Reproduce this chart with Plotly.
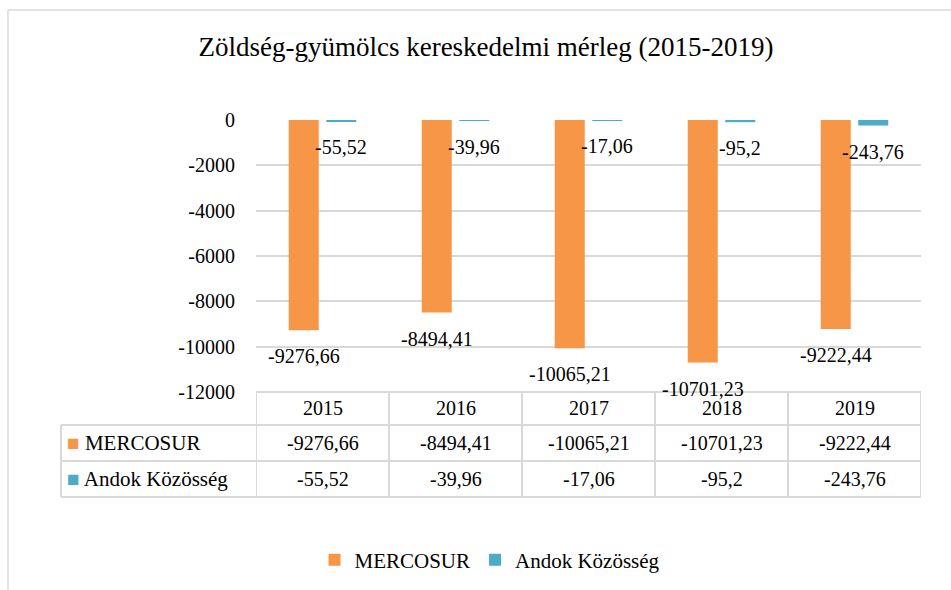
import plotly.graph_objects as go

years = ["2015", "2016", "2017", "2018", "2019"]
mercosur = [-9276.66, -8494.41, -10065.21, -10701.23, -9222.44]
andok = [-55.52, -39.96, -17.06, -95.2, -243.76]
series_names = ["MERCOSUR", "Andok Közösség"]
tick_vals = [0, -2000, -4000, -6000, -8000, -10000, -12000]
tick_text = ["0", "-2000", "-4000", "-6000", "-8000", "-10000", "-12000"]

ORANGE = "#F79646"
TEAL = "#4BACC6"
GRID = "#D9D9D9"
FONT = "Liberation Serif, DejaVu Serif, serif"

W, H = 951, 590
L, R, T, B = 256, 30, 120, 198
PW, PH = W - L - R, H - T - B
BARGAP = 0.436
BARGROUPGAP = 0.2


def fmt(v):
    return str(v).replace(".", ",")


def px_x(px):
    return (px - L) / PW


def px_y(py):
    return (H - B - py) / PH


fig = go.Figure()
fig.add_trace(go.Bar(x=years, y=mercosur, name=series_names[0], marker_color=ORANGE,
                     marker_line_width=0))
fig.add_trace(go.Bar(x=years, y=andok, name=series_names[1], marker_color=TEAL,
                     marker_line_width=0))

annotations = []
# data labels below bar ends (category axis: position = category index)
slot_px = PW / len(years) * (1 - BARGAP) / 2
for vals, shift in ((mercosur, -slot_px / 2), (andok, slot_px / 2)):
    for i, v in enumerate(vals):
        annotations.append(dict(x=i, y=v, xref="x", yref="y", text=fmt(v), showarrow=False,
                                xshift=shift, yshift=-26, yanchor="middle",
                                font=dict(family=FONT, size=20, color="#000000")))

# data table
row_y = [px_y(408), px_y(443), px_y(479)]
for i, yr in enumerate(years):
    annotations.append(dict(x=i, y=row_y[0], xref="x", yref="paper", text=yr, showarrow=False,
                            yanchor="middle", font=dict(family=FONT, size=20, color="#000000")))
for vals, ry in ((mercosur, row_y[1]), (andok, row_y[2])):
    for i, v in enumerate(vals):
        annotations.append(dict(x=i, y=ry, xref="x", yref="paper", text=fmt(v), showarrow=False,
                                yanchor="middle", font=dict(family=FONT, size=20, color="#000000")))
for name, col, ry in ((series_names[0], ORANGE, row_y[1]), (series_names[1], TEAL, row_y[2])):
    annotations.append(dict(x=px_x(65), y=ry, xref="paper", yref="paper",
                            text=f'<span style="color:{col}">■</span> {name}', showarrow=False,
                            xanchor="left", yanchor="middle",
                            font=dict(family=FONT, size=21, color="#000000")))

shapes = []
line = dict(color=GRID, width=2)
xl = px_x(61)
y_rows = [px_y(392), px_y(425), px_y(461), px_y(497)]
shapes.append(dict(type="line", xref="paper", yref="paper", x0=0, x1=1, y0=y_rows[0], y1=y_rows[0], line=line))
for yy in y_rows[1:]:
    shapes.append(dict(type="line", xref="paper", yref="paper", x0=xl, x1=1, y0=yy, y1=yy, line=line))
for i in range(len(years) + 1):
    shapes.append(dict(type="line", xref="x", yref="paper", x0=i - 0.5, x1=i - 0.5,
                       y0=y_rows[0], y1=y_rows[3], line=line))
shapes.append(dict(type="line", xref="paper", yref="paper", x0=xl, x1=xl,
                   y0=y_rows[1], y1=y_rows[3], line=line))
# chart frame
shapes.append(dict(type="line", xref="paper", yref="paper", x0=px_x(8), x1=px_x(8),
                   y0=px_y(10), y1=px_y(H), line=dict(color=GRID, width=1.5)))
shapes.append(dict(type="line", xref="paper", yref="paper", x0=px_x(8), x1=px_x(W),
                   y0=px_y(10), y1=px_y(10), line=dict(color=GRID, width=1.5)))

fig.update_layout(
    width=W, height=H,
    margin=dict(l=L, r=R, t=T, b=B),
    paper_bgcolor="white", plot_bgcolor="white",
    font=dict(family=FONT, size=20, color="#000000"),
    title=dict(text="Zöldség-gyümölcs kereskedelmi mérleg (2015-2019)",
               x=486 / W, xanchor="center", y=1 - 47 / H, yanchor="middle",
               font=dict(family=FONT, size=27, color="#000000")),
    barmode="group", bargap=BARGAP, bargroupgap=BARGROUPGAP,
    xaxis=dict(type="category", showticklabels=False, showgrid=False, zeroline=False,
               showline=False, range=[-0.5, len(years) - 0.5]),
    yaxis=dict(range=[-12000, 0], tickvals=tick_vals, ticktext=tick_text, showgrid=True,
               gridcolor=GRID, gridwidth=1.5, zeroline=False, showline=False,
               ticklabelstandoff=20, tickfont=dict(family=FONT, size=20, color="#000000")),
    legend=dict(orientation="h", xref="container", yref="container", x=490 / W, y=1 - 560 / H,
                xanchor="center", yanchor="middle", font=dict(family=FONT, size=21),
                traceorder="normal", itemclick=False, itemwidth=30),
    annotations=annotations,
    shapes=shapes,
    showlegend=True,
)

fig.write_html("out.html", config={"displayModeBar": False},
               post_script="document.body.style.margin='0';")
